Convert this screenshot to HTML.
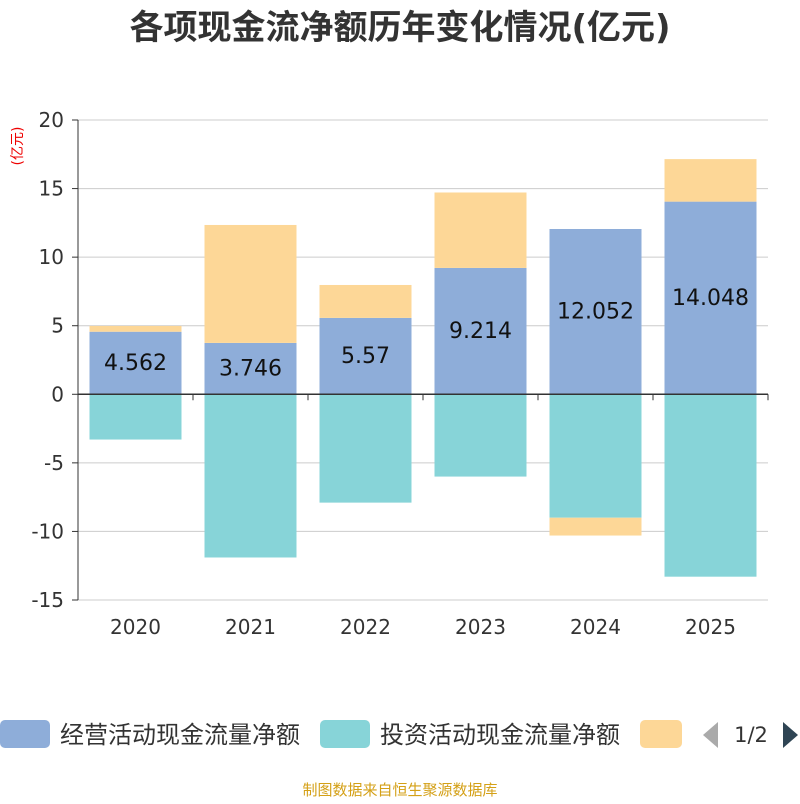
<!DOCTYPE html>
<html><head><meta charset="utf-8"><style>
body{margin:0;background:#fff;width:800px;height:800px;overflow:hidden;font-family:"DejaVu Sans","Noto Sans CJK SC",sans-serif}
</style></head><body>
<svg id="c" width="800" height="800" xmlns="http://www.w3.org/2000/svg">
<text x="400" y="39" text-anchor="middle" font-size="34" font-weight="bold" fill="#333">各项现金流净额历年变化情况(亿元)</text>
<text transform="translate(22,146) rotate(-90)" text-anchor="middle" font-size="14" fill="#e00">(亿元)</text>
<g id="grid"></g><g id="bars"></g><g id="axes"></g>
<g>
<rect x="0" y="720" width="50" height="28" rx="5" fill="#8eadd9"/>
<text x="60" y="743" font-size="24" fill="#333">经营活动现金流量净额</text>
<rect x="320" y="720" width="50" height="28" rx="5" fill="#87d4d8"/>
<text x="380" y="743" font-size="24" fill="#333">投资活动现金流量净额</text>
<rect x="640" y="720" width="42" height="28" rx="5" fill="#fdd797"/>
<polygon points="718,722 718,748 703,735" fill="#aaa"/>
<text x="751" y="742" text-anchor="middle" font-size="21" fill="#333">1/2</text>
<polygon points="783,722 783,748 798,735" fill="#2f4554"/>
</g>
<text x="400" y="795" text-anchor="middle" font-size="15" fill="#d4a017">制图数据来自恒生聚源数据库</text>
</svg>
<script>
const years=["2020","2021","2022","2023","2024","2025"];
const operating=[4.562,3.746,5.57,9.214,12.052,14.048];
const investing=[-3.3,-11.9,-7.9,-6.0,-9.0,-13.3];
const financing=[0.42,8.6,2.4,5.5,-1.3,3.1];
const yTicks=[20,15,10,5,0,-5,-10,-15];
const NS="http://www.w3.org/2000/svg";
const X0=78,X1=768,Y0=120,Y1=600,ymin=-15,ymax=20;
const y=v=>Y0+(ymax-v)/(ymax-ymin)*(Y1-Y0);
const bw=(X1-X0)/years.length;
const xc=i=>X0+bw*(i+0.5);
function mk(tag,attrs,parent){const e=document.createElementNS(NS,tag);for(const k in attrs)e.setAttribute(k,attrs[k]);document.getElementById(parent).appendChild(e);return e;}
yTicks.forEach(t=>{
 const l=mk('line',{x1:X0,x2:X1,y1:y(t),y2:y(t),stroke:t===0?'#333':'#ccc','stroke-width':t===0?1.5:1},t===0?'axes':'grid');
 
 
 const tk=mk('line',{x1:X0-6,x2:X0,y1:y(t),y2:y(t),stroke:'#333'},'axes');
 
 
 const tx=mk('text',{x:X0-14,y:y(t)+7,'text-anchor':'end','font-size':20,fill:'#333'},'axes');
 tx.textContent=t;
 
 
});
const ya=mk('line',{x1:X0,x2:X0,y1:Y0,y2:Y1,stroke:'#333'},'axes');


for(let i=0;i<=years.length;i++){
 const tk=mk('line',{x1:X0+bw*i,x2:X0+bw*i,y1:y(0),y2:y(0)+6,stroke:'#333'},'axes');
 
 
}
const BW=92;
function bar(v0,v1,i,color,name){
 const top=Math.min(y(v0),y(v1)),h=Math.abs(y(v0)-y(v1));
 const r=mk('rect',{x:xc(i)-BW/2,y:top,width:BW,height:h,fill:color},'bars');
 
 
}
years.forEach((yr,i)=>{
 let pos=0,neg=0;
 [[operating[i],'#8eadd9','bar-operating-'+yr],[investing[i],'#87d4d8','bar-investing-'+yr],[financing[i],'#fdd797','bar-financing-'+yr]].forEach(([v,c,n])=>{
  if(v>=0){bar(pos,pos+v,i,c,n);pos+=v;}else{bar(neg,neg+v,i,c,n);neg+=v;}
 });
 const lb=mk('text',{x:xc(i),y:y(operating[i]/2)+7,'text-anchor':'middle','font-size':22,fill:'#111'},'bars');
 lb.textContent=operating[i];
 
 
 const xl=mk('text',{x:xc(i),y:634,'text-anchor':'middle','font-size':20,fill:'#333'},'axes');
 xl.textContent=yr;
 
 
});
</script>
</body></html>
